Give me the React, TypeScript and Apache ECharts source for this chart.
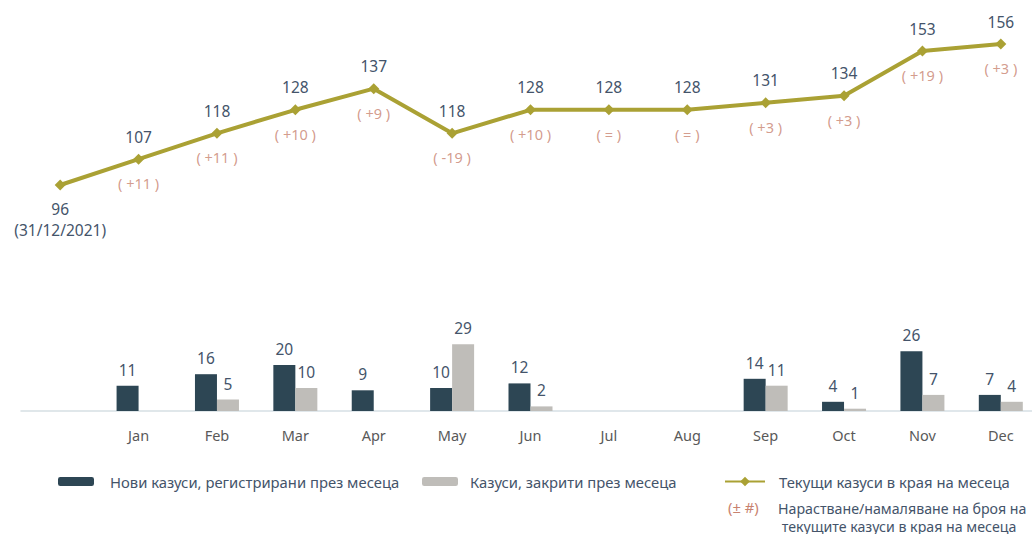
import React, { useEffect, useRef } from "react";
import * as echarts from "echarts";

const categories = ["", "Jan", "Feb", "Mar", "Apr", "May", "Jun", "Jul", "Aug", "Sep", "Oct", "Nov", "Dec"];
const openCases = [96, 107, 118, 128, 137, 118, 128, 128, 128, 131, 134, 153, 156];
const changeLabels = ["", "( +11 )", "( +11 )", "( +10 )", "( +9 )", "( -19 )", "( +10 )", "( = )", "( = )", "( +3 )", "( +3 )", "( +19 )", "( +3 )"];
const newCases: (number | null)[] = [null, 11, 16, 20, 9, 10, 12, null, null, 14, 4, 26, 7];
const closedCases: (number | null)[] = [null, null, 5, 10, null, 29, 2, null, null, 11, 1, 7, 4];
const startLabel = "(31/12/2021)";

const nameNew = "Нови казуси, регистрирани през месеца";
const nameClosed = "Казуси, закрити през месеца";
const nameOpen = "Текущи казуси в края на месеца";
const noteSymbol = "(± #)";
const noteText = ["Нарастване/намаляване на броя на", " текущите казуси в края на месеца"];

const FONT = "'Noto Sans', sans-serif";
const DARK = "#2D4654";
const GRAY = "#BFBDB9";
const OLIVE = "#AAA134";
const TEXT = "#44546A";
const RED = "#C8826F";
const AXIS = "#595959";
const LEG = 14.8;

export default function App() {
  const ref = useRef<HTMLDivElement>(null);
  useEffect(() => {
    if (!ref.current) return;
    const chart = echarts.init(ref.current, undefined, { renderer: "svg" });
    const lineData = openCases.map((v, i) =>
      i === 0
        ? {
            value: v,
            label: {
              position: "bottom",
              distance: 8,
              lineHeight: 21,
              formatter: `${v}\n${startLabel}`,
            },
          }
        : v
    );
    const changeData = openCases.map((v, i) => ({
      value: v,
      label: { show: changeLabels[i] !== "", formatter: changeLabels[i] },
    }));
    const legendText = { color: TEXT, fontSize: LEG, fontFamily: FONT };
    chart.setOption({
      animation: false,
      textStyle: { fontFamily: FONT },
      grid: [
        { left: 21, width: 1019, top: 34.6, height: 164.5 },
        { left: 21, width: 1019, top: 342, height: 69 },
      ],
      xAxis: [
        { type: "category", data: categories, gridIndex: 0, show: false },
        {
          type: "category",
          data: categories,
          gridIndex: 1,
          axisLine: { show: true, lineStyle: { color: "#D6DFE4", width: 1.5 } },
          axisTick: { show: false },
          axisLabel: { color: AXIS, fontSize: 14.5, margin: 16, fontFamily: FONT },
        },
      ],
      yAxis: [
        { type: "value", gridIndex: 0, min: 90, max: 160, show: false, splitLine: { show: false } },
        { type: "value", gridIndex: 1, min: 0, max: 30, show: false, splitLine: { show: false } },
      ],
      legend: [
        {
          data: [nameNew],
          left: 58,
          top: 474,
          padding: 0,
          itemWidth: 36,
          itemHeight: 9,
          textStyle: { ...legendText, padding: [0, 0, 0, 11] },
        },
        {
          data: [nameClosed],
          left: 422,
          top: 474,
          padding: 0,
          itemWidth: 36,
          itemHeight: 9,
          textStyle: { ...legendText, padding: [0, 0, 0, 7] },
        },
        {
          data: [nameOpen],
          left: 724,
          top: 474,
          padding: 0,
          itemWidth: 40,
          itemHeight: 12,
          textStyle: { ...legendText, padding: [0, 0, 0, 9] },
        },
      ],
      series: [
        {
          name: nameNew,
          type: "bar",
          xAxisIndex: 1,
          yAxisIndex: 1,
          data: newCases,
          barWidth: 22,
          barGap: "0%",
          itemStyle: { color: DARK },
          label: { show: true, position: "top", distance: 8, color: TEXT, fontSize: 15.5, fontFamily: FONT },
        },
        {
          name: nameClosed,
          type: "bar",
          xAxisIndex: 1,
          yAxisIndex: 1,
          data: closedCases,
          barWidth: 22,
          barGap: "0%",
          itemStyle: { color: GRAY },
          label: { show: true, position: "top", distance: 8, color: TEXT, fontSize: 15.5, fontFamily: FONT },
        },
        {
          name: nameOpen,
          type: "line",
          xAxisIndex: 0,
          yAxisIndex: 0,
          data: lineData,
          symbol: "diamond",
          symbolSize: 11,
          lineStyle: { color: OLIVE, width: 4 },
          itemStyle: { color: OLIVE },
          label: { show: true, position: "top", distance: 9, color: TEXT, fontSize: 15.5, fontFamily: FONT },
        },
        {
          name: "change",
          type: "scatter",
          xAxisIndex: 0,
          yAxisIndex: 0,
          data: changeData,
          symbolSize: 1,
          itemStyle: { color: "rgba(0,0,0,0)" },
          silent: true,
          label: { show: true, position: "bottom", distance: 16, color: RED, fontSize: 14.5, fontFamily: FONT },
        },
      ],
      graphic: [
        {
          type: "text",
          left: 728,
          top: 499,
          style: { text: noteSymbol, fill: RED, fontSize: LEG, fontFamily: FONT },
        },
        {
          type: "text",
          left: 778,
          top: 499,
          style: { text: noteText.join("\n"), fill: TEXT, fontSize: 14.2, lineHeight: 18, fontFamily: FONT },
        },
      ],
    });
    return () => chart.dispose();
  }, []);
  return (
    <div style={{ position: "fixed", left: 0, top: 0, width: 1032, height: 534, overflow: "hidden", background: "#fff" }}>
      <div ref={ref} style={{ width: 1045, height: 534 }} />
    </div>
  );
}
